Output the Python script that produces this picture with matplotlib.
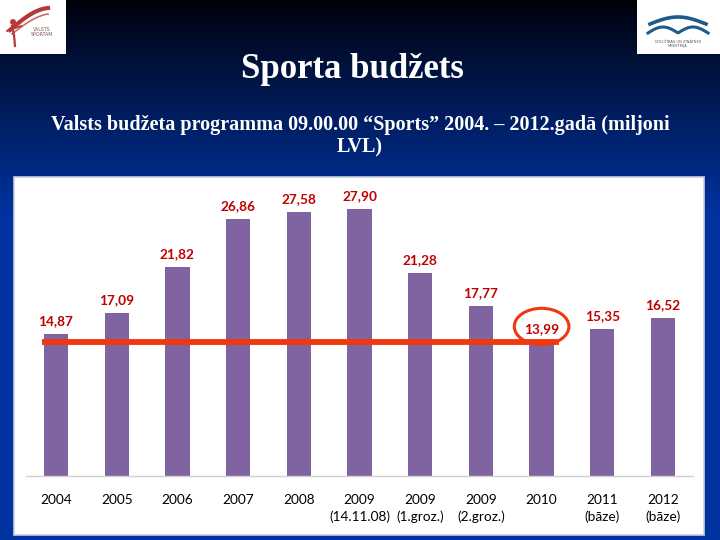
import numpy as np
import matplotlib
matplotlib.use("Agg")
import matplotlib.pyplot as plt
from matplotlib.patches import Rectangle, Ellipse

# ---- data ----
categories = ["2004", "2005", "2006", "2007", "2008", "2009\n(14.11.08)", "2009\n(1.groz.)",
              "2009\n(2.groz.)", "2010", "2011\n(bāze)", "2012\n(bāze)"]
values = [14.87, 17.09, 21.82, 26.86, 27.58, 27.90, 21.28, 17.77, 13.99, 15.35, 16.52]
value_labels = ["14,87", "17,09", "21,82", "26,86", "27,58", "27,90", "21,28", "17,77", "13,99", "15,35", "16,52"]
highlight_index = 8  # 2010

title = "Sporta budžets"
subtitle = "Valsts budžeta programma 09.00.00 \u201cSports\u201d 2004. \u2013 2012.gadā (miljoni\nLVL)"

W, H = 720, 540
fig = plt.figure(figsize=(W / 100, H / 100), dpi=100)

# ---- background (pixel coordinates) ----
bg = fig.add_axes([0, 0, 1, 1])
bg.set_xlim(0, W)
bg.set_ylim(H, 0)
bg.axis("off")
ys = np.linspace(0, 1, 540)[:, None]
top = np.array([0.0, 0.0, 0.03])
bot = np.array([0.0, 0.20, 0.63])
t = np.clip(ys / 0.40, 0, 1) ** 0.9
grad = (top[None, None, :] * (1 - t[..., None]) + bot[None, None, :] * t[..., None])
grad = np.repeat(grad, 2, axis=1)
bg.imshow(grad, extent=[0, W, H, 0], aspect="auto", zorder=0)

# white chart panel
bg.add_patch(Rectangle((14, 177), 690, 358, facecolor="white", edgecolor="#c8d0e0", lw=1.2, zorder=1))

# logos
bg.add_patch(Rectangle((0, 0), 66, 54, facecolor="white", edgecolor="none", zorder=1))
s = np.linspace(0, 1, 50)
bg.plot(10 + 38 * s, 30 - 18 * np.sin(s * np.pi / 2) - 4 * s, color="#b23a3a", lw=3, zorder=2)
bg.plot(12 + 36 * s, 34 - 14 * np.sin(s * np.pi / 2) - 6 * s, color="#c86a6a", lw=1.2, zorder=2)
bg.plot([12, 14, 15], [26, 35, 46], color="#b23a3a", lw=1.6, zorder=2)
bg.plot([7, 21], [31, 26], color="#b23a3a", lw=1.3, zorder=2)
bg.add_patch(Ellipse((13, 22), 4.5, 4.5, color="#b23a3a", zorder=2))
bg.text(42, 32, "VALSTS\nSPORTAM", fontsize=3.4, color="#8a5a5a", ha="center", va="center",
        family="DejaVu Sans", linespacing=1.2, zorder=3)

bg.add_patch(Rectangle((637, 0), 83, 54, facecolor="white", edgecolor="none", zorder=1))
xx = np.linspace(650, 706, 60)
bg.plot(xx, 24 - 7 * np.sin((xx - 650) / 56 * np.pi), color="#1f5a8a", lw=2.6, zorder=2)
xx2 = np.linspace(648, 708, 60)
bg.plot(xx2, 33 - 6 * np.abs(np.sin((xx2 - 648) / 30 * np.pi)), color="#1f5a8a", lw=2.2, zorder=2)
bg.text(678, 44, "IZGLĪTĪBAS UN ZINĀTNES\nMINISTRIJA", fontsize=2.6, color="#556", ha="center",
        va="center", family="DejaVu Sans", linespacing=1.3, zorder=2)

# titles
bg.text(352, 69, title, color="white", fontsize=25, family="Liberation Serif", fontweight="bold",
        ha="center", va="center", zorder=3)
bg.text(360, 136, subtitle, color="white", fontsize=14.5, family="Liberation Serif", fontweight="bold",
        ha="center", va="center", linespacing=1.15, zorder=3)

# ---- bar chart ----
ax = fig.add_axes([25.65 / W, (H - 476) / H, 667.7 / W, 286.8 / H])
ax.patch.set_alpha(0)
x = np.arange(len(values))
ax.bar(x, values, width=0.40, color="#8064a2", zorder=2)
ax.set_xlim(-0.5, len(values) - 0.5)
ax.set_ylim(0, 30)
for sp in ["top", "left", "right"]:
    ax.spines[sp].set_visible(False)
ax.spines["bottom"].set_color("#d0d0d0")
ax.spines["bottom"].set_linewidth(1.0)
ax.set_yticks([])
ax.set_xticks(x)
ax.set_xticklabels(categories, family="Lato", fontsize=9.8, color="black", linespacing=1.45)
ax.tick_params(axis="x", length=0, pad=13)

for xi, v, lab in zip(x, values, value_labels):
    ax.annotate(lab, (xi, v), xytext=(0, 5), textcoords="offset points", ha="center", va="bottom",
                fontsize=9.8, fontweight="bold", family="Lato", color="#c00000", zorder=5)

# highlight line at 2010 level and circle around its label
hv = values[highlight_index]
ax.plot([-0.23, highlight_index + 0.29], [hv, hv], color="#f0380f", lw=4.2, zorder=4,
        solid_capstyle="butt", clip_on=False)
ax.add_patch(Ellipse((highlight_index, hv + 1.65), 0.9, 3.8, facecolor="none", edgecolor="#f0380f",
                     lw=2.2, zorder=6, clip_on=False))

fig.savefig("out.png", dpi=100)
